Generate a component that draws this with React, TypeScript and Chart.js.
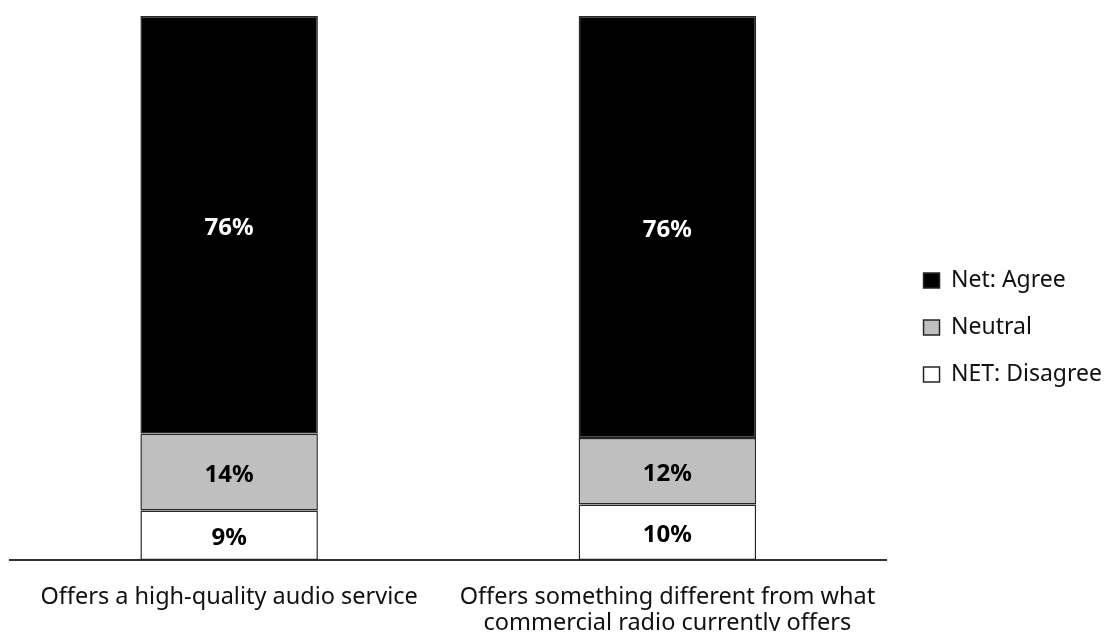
import React, { useEffect, useRef } from "react";
import { Chart, registerables } from "chart.js";

Chart.register(...registerables);

const categories: string[][] = [
  ["Offers a high-quality audio service"],
  ["Offers something different from what", "commercial radio currently offers"],
];
const seriesNames = ["NET: Disagree", "Neutral", "Net: Agree"];
const disagreeValues = [9, 10];
const neutralValues = [14, 12];
const agreeValues = [76, 76];
const seriesColors = ["#ffffff", "#bfbfbf", "#000000"];
const labelColors = ["#000000", "#000000", "#ffffff"];

const FONT = "'Noto Sans', sans-serif";

const seriesValues = [disagreeValues, neutralValues, agreeValues];
const totals = categories.map((_, i) => seriesValues.reduce((s, arr) => s + arr[i], 0));
const shares = seriesValues.map((arr) => arr.map((v, i) => (v / totals[i]) * 100));

const barLabelPlugin = {
  id: "barLabels",
  afterDatasetsDraw(chart: any) {
    const ctx = chart.ctx;
    ctx.save();
    ctx.font = `bold 24px ${FONT}`;
    ctx.textAlign = "center";
    ctx.textBaseline = "middle";
    chart.data.datasets.forEach((ds: any, di: number) => {
      const meta = chart.getDatasetMeta(di);
      if (meta.hidden) return;
      meta.data.forEach((el: any, i: number) => {
        const p = el.getProps(["x", "y", "base"], true);
        ctx.fillStyle = labelColors[di];
        ctx.fillText(seriesValues[di][i] + "%", p.x, (p.y + p.base) / 2 + 3);
      });
    });
    ctx.restore();
  },
};

export default function App() {
  const ref = useRef<HTMLCanvasElement | null>(null);
  useEffect(() => {
    if (!ref.current) return;
    const chart = new Chart(ref.current, {
      type: "bar",
      data: {
        labels: categories as any,
        datasets: seriesNames.map((name, di) => ({
          label: name,
          data: shares[di],
          backgroundColor: seriesColors[di],
          borderColor: "#262626",
          borderWidth: 1.5,
          borderSkipped: false,
          barPercentage: 0.405,
          categoryPercentage: 1,
        })),
      },
      options: {
        animation: false,
        responsive: false,
        devicePixelRatio: 1,
        layout: { padding: { left: 2, top: 8, right: -8, bottom: 0 } },
        plugins: {
          tooltip: { enabled: false },
          legend: {
            position: "right",
            reverse: true,
            labels: {
              font: { family: FONT, size: 23 },
              color: "#111111",
              boxWidth: 16,
              boxHeight: 15,
              padding: 24,
            },
          },
        },
        scales: {
          x: {
            stacked: true,
            grid: { display: false, drawTicks: false },
            border: { display: true, color: "#333333", width: 2 },
            ticks: {
              font: { family: FONT, size: 23.5, lineHeight: 1.12 },
              color: "#111111",
              padding: 24,
              maxRotation: 0,
              autoSkip: false,
            },
            afterFit: (s: any) => {
              s.height = 79;
            },
          },
          y: {
            stacked: true,
            position: "right",
            min: 0,
            max: 100,
            grid: { display: false },
            border: { display: false },
            ticks: { display: false },
            afterFit: (s: any) => {
              s.width = 13;
            },
          },
        },
      },
      plugins: [barLabelPlugin],
    });
    return () => chart.destroy();
  }, []);
  return (
    <div style={{ width: 1096, height: 631, marginBottom: -8 }}>
      <canvas ref={ref} width={1096} height={631} style={{ display: "block" }} />
    </div>
  );
}
